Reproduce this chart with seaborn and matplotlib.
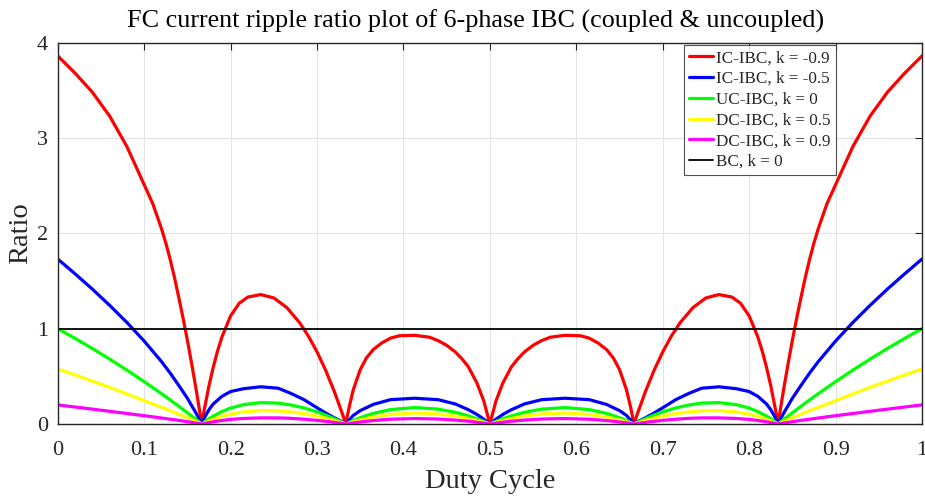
import numpy as np
import pandas as pd
import matplotlib
matplotlib.use("Agg")
import matplotlib.pyplot as plt
import seaborn as sns

# Duty grid for the IC-IBC k=-0.9 curve (denser, the curve is steep near the cusps)
duty_red = [0, 0.02, 0.04, 0.06, 0.08, 0.10, 0.11, 0.12, 0.125, 0.13, 0.135, 0.14, 0.145, 0.15, 0.155, 0.16, 0.1633, 0.1667,
            0.17, 0.175, 0.18, 0.185, 0.19, 0.20, 0.21, 0.22, 0.235, 0.25, 0.265, 0.28, 0.29, 0.30, 0.31, 0.32, 0.33, 0.3333,
            0.337, 0.342, 0.35, 0.357, 0.365, 0.375, 0.385, 0.395, 0.413, 0.43, 0.44, 0.45, 0.46, 0.468, 0.475, 0.485, 0.493, 0.5,
            0.507, 0.515, 0.525, 0.532, 0.54, 0.55, 0.56, 0.57, 0.587, 0.605, 0.615, 0.625, 0.635, 0.643, 0.65, 0.658, 0.663,
            0.6667, 0.67, 0.68, 0.69, 0.70, 0.71, 0.72, 0.735, 0.75, 0.765, 0.78, 0.79, 0.80, 0.81, 0.815, 0.82, 0.825, 0.83,
            0.8333, 0.8367, 0.84, 0.845, 0.85, 0.855, 0.86, 0.865, 0.87, 0.875, 0.88, 0.89, 0.90, 0.92, 0.94, 0.96, 0.98, 1.0]

ic_k09 = [3.86, 3.68, 3.48, 3.23, 2.91, 2.51, 2.31, 2.05, 1.90, 1.73, 1.54, 1.33, 1.11, 0.88, 0.63, 0.37, 0.185, 0.0,
          0.171, 0.40, 0.598, 0.768, 0.913, 1.133, 1.266, 1.331, 1.357, 1.322, 1.221, 1.061, 0.922, 0.756, 0.563, 0.341, 0.090, 0.0,
          0.17, 0.36, 0.57, 0.69, 0.78, 0.85, 0.90, 0.925, 0.93, 0.91, 0.875, 0.825, 0.755, 0.68, 0.60, 0.43, 0.24, 0.0,
          0.24, 0.43, 0.60, 0.68, 0.755, 0.825, 0.875, 0.91, 0.93, 0.925, 0.90, 0.85, 0.78, 0.69, 0.57, 0.36, 0.17,
          0.0, 0.090, 0.341, 0.563, 0.756, 0.922, 1.061, 1.221, 1.322, 1.357, 1.331, 1.266, 1.133, 0.913, 0.768, 0.598, 0.40, 0.171,
          0.0, 0.185, 0.37, 0.63, 0.88, 1.11, 1.33, 1.54, 1.73, 1.90, 2.05, 2.31, 2.51, 2.91, 3.23, 3.48, 3.68, 3.86]

# Duty grid for the other curves
duty = [0, 0.02, 0.04, 0.06, 0.08, 0.10, 0.12, 0.13, 0.14, 0.15, 0.16, 0.1667,
        0.17, 0.175, 0.18, 0.19, 0.20, 0.215, 0.235, 0.255, 0.27, 0.285, 0.30, 0.31, 0.32, 0.33, 0.3333,
        0.337, 0.342, 0.35, 0.365, 0.385, 0.413, 0.44, 0.46, 0.475, 0.485, 0.493, 0.5,
        0.507, 0.515, 0.525, 0.54, 0.56, 0.587, 0.615, 0.635, 0.65, 0.658, 0.663, 0.6667,
        0.67, 0.68, 0.69, 0.70, 0.715, 0.73, 0.745, 0.765, 0.785, 0.80, 0.81, 0.82, 0.825, 0.83, 0.8333,
        0.84, 0.85, 0.86, 0.87, 0.88, 0.90, 0.92, 0.94, 0.96, 0.98, 1.0]

ic_k05 = [1.73, 1.575, 1.415, 1.245, 1.065, 0.87, 0.655, 0.535, 0.405, 0.27, 0.115, 0.0,
          0.07, 0.15, 0.21, 0.29, 0.34, 0.37, 0.39, 0.375, 0.32, 0.255, 0.17, 0.115, 0.065, 0.02, 0.0,
          0.04, 0.09, 0.14, 0.205, 0.255, 0.27, 0.255, 0.21, 0.15, 0.10, 0.05, 0.0,
          0.05, 0.10, 0.15, 0.21, 0.255, 0.27, 0.255, 0.205, 0.14, 0.09, 0.04, 0.0,
          0.02, 0.065, 0.115, 0.17, 0.255, 0.32, 0.375, 0.39, 0.37, 0.34, 0.29, 0.21, 0.15, 0.07, 0.0,
          0.115, 0.27, 0.405, 0.535, 0.655, 0.87, 1.065, 1.245, 1.415, 1.575, 1.73]

uc_k0 = [1.0, 0.898, 0.792, 0.681, 0.565, 0.444, 0.318, 0.253, 0.186, 0.118, 0.048, 0.0,
         0.023, 0.055, 0.083, 0.130, 0.167, 0.203, 0.224, 0.219, 0.199, 0.168, 0.127, 0.094, 0.056, 0.015, 0.0,
         0.016, 0.037, 0.066, 0.111, 0.151, 0.172, 0.156, 0.122, 0.085, 0.055, 0.027, 0.0,
         0.027, 0.055, 0.085, 0.122, 0.156, 0.172, 0.151, 0.111, 0.066, 0.037, 0.016, 0.0,
         0.015, 0.056, 0.094, 0.127, 0.168, 0.199, 0.219, 0.224, 0.203, 0.167, 0.130, 0.083, 0.055, 0.023, 0.0,
         0.048, 0.118, 0.186, 0.253, 0.318, 0.444, 0.565, 0.681, 0.792, 0.898, 1.0]

dc_k05 = [0.577, 0.515, 0.45, 0.385, 0.315, 0.245, 0.175, 0.14, 0.103, 0.066, 0.027, 0.0,
          0.012, 0.032, 0.05, 0.08, 0.103, 0.127, 0.14, 0.138, 0.127, 0.108, 0.082, 0.061, 0.037, 0.01, 0.0,
          0.01, 0.024, 0.043, 0.073, 0.10, 0.115, 0.105, 0.083, 0.058, 0.037, 0.018, 0.0,
          0.018, 0.037, 0.058, 0.083, 0.105, 0.115, 0.10, 0.073, 0.043, 0.024, 0.01, 0.0,
          0.01, 0.037, 0.061, 0.082, 0.108, 0.127, 0.138, 0.14, 0.127, 0.103, 0.08, 0.05, 0.032, 0.012, 0.0,
          0.027, 0.066, 0.103, 0.14, 0.175, 0.245, 0.315, 0.385, 0.45, 0.515, 0.577]

dc_k09 = [0.20, 0.178, 0.156, 0.133, 0.11, 0.087, 0.063, 0.05, 0.038, 0.024, 0.01, 0.0,
          0.006, 0.015, 0.023, 0.037, 0.048, 0.058, 0.064, 0.064, 0.059, 0.05, 0.038, 0.028, 0.017, 0.005, 0.0,
          0.005, 0.012, 0.021, 0.036, 0.05, 0.057, 0.052, 0.041, 0.029, 0.018, 0.009, 0.0,
          0.009, 0.018, 0.029, 0.041, 0.052, 0.057, 0.05, 0.036, 0.021, 0.012, 0.005, 0.0,
          0.005, 0.017, 0.028, 0.038, 0.05, 0.059, 0.064, 0.064, 0.058, 0.048, 0.037, 0.023, 0.015, 0.006, 0.0,
          0.01, 0.024, 0.038, 0.05, 0.063, 0.087, 0.11, 0.133, 0.156, 0.178, 0.20]

bc_duty = [0, 1]
bc_k0 = [1, 1]

labels = ["IC-IBC, k = -0.9", "IC-IBC, k = -0.5", "UC-IBC, k = 0",
          "DC-IBC, k = 0.5", "DC-IBC, k = 0.9", "BC, k = 0"]
colors = ["#ff0000", "#0000ff", "#00ff00", "#ffff00", "#ff00ff", "#000000"]
xticks = [0, 0.1, 0.2, 0.3, 0.4, 0.5, 0.6, 0.7, 0.8, 0.9, 1]
xticklabels = ["0", "0.1", "0.2", "0.3", "0.4", "0.5", "0.6", "0.7", "0.8", "0.9", "1"]
yticks = [0, 1, 2, 3, 4]

sns.set_theme(style="white")
plt.rcParams['font.family'] = ['Liberation Serif', 'DejaVu Serif']

fig = plt.figure(figsize=(9.25, 4.96), dpi=100)
ax = fig.add_axes([0.0624, 0.1452, 0.9344, 0.7690])

series = [(duty_red, ic_k09), (duty, ic_k05), (duty, uc_k0), (duty, dc_k05), (duty, dc_k09)]
for lab, col, (xs, vals) in zip(labels[:5], colors[:5], series):
    df = pd.DataFrame({"Duty": xs, "Ratio": vals})
    sns.lineplot(data=df, x="Duty", y="Ratio", color=col, linewidth=2.3,
                 estimator=None, sort=False, ax=ax, label=lab)
dfb = pd.DataFrame({"Duty": bc_duty, "Ratio": bc_k0})
sns.lineplot(data=dfb, x="Duty", y="Ratio", color=colors[5], linewidth=1.3,
             estimator=None, sort=False, ax=ax, label=labels[5])

ax.set_xlim(0, 1)
ax.set_ylim(0, 4)
ax.set_xticks(xticks)
ax.set_xticklabels(xticklabels)
ax.set_yticks(yticks)
ax.grid(True, color="#e3e3e3", linewidth=0.8)
ax.set_axisbelow(True)
for s in ax.spines.values():
    s.set_color("#262626")
    s.set_linewidth(1.0)
ax.tick_params(direction="in", length=5, width=0.8, top=True, right=True,
               labelsize=16, colors="#262626")
ax.tick_params(axis="x", pad=12)
ax.tick_params(axis="y", pad=7)
ax.set_xlabel("Duty Cycle", fontsize=20.5, color="#262626", labelpad=7)
ax.set_ylabel("Ratio", fontsize=20.5, color="#262626", labelpad=3)
ax.set_title("FC current ripple ratio plot of 6-phase IBC (coupled & uncoupled)",
             fontsize=18.8, color="#000000", pad=10.5, x=0.483)

leg = ax.legend(loc="upper right", bbox_to_anchor=(0.9005, 0.9934), fontsize=12.3,
                frameon=True, fancybox=False, edgecolor="#262626",
                handlelength=1.4, handletextpad=0.2, borderpad=0.3,
                labelspacing=0.28, borderaxespad=0.0)
leg.get_frame().set_linewidth(0.8)

fig.savefig("out.png", dpi=100)
